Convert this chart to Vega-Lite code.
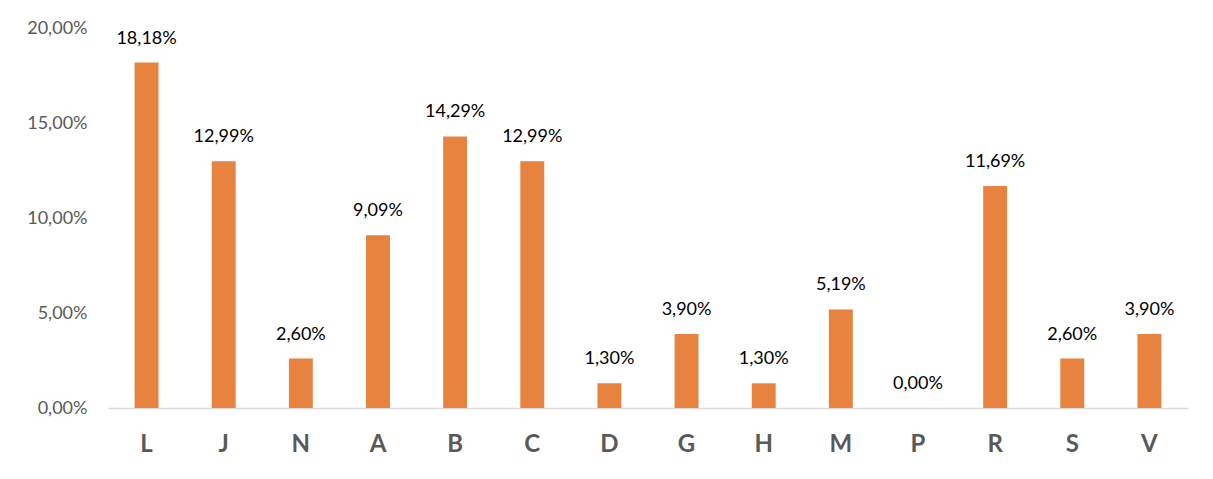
{
  "$schema": "https://vega.github.io/schema/vega-lite/v6.json",
  "autosize": "none",
  "width": 1080,
  "height": 380,
  "padding": {"left": 108, "top": 28, "right": 25, "bottom": 71},
  "background": "white",
  "config": {
    "locale": {"number": {"decimal": ",", "thousands": ".", "grouping": [3], "currency": ["", " €"]}},
    "view": {"stroke": null},
    "font": "Lato"
  },
  "data": {
    "values": [
      {"cat": "L", "v": 0.1818},
      {"cat": "J", "v": 0.1299},
      {"cat": "N", "v": 0.026},
      {"cat": "A", "v": 0.0909},
      {"cat": "B", "v": 0.1429},
      {"cat": "C", "v": 0.1299},
      {"cat": "D", "v": 0.013},
      {"cat": "G", "v": 0.039},
      {"cat": "H", "v": 0.013},
      {"cat": "M", "v": 0.0519},
      {"cat": "P", "v": 0.0},
      {"cat": "R", "v": 0.1169},
      {"cat": "S", "v": 0.026},
      {"cat": "V", "v": 0.039}
    ]
  },
  "encoding": {
    "x": {
      "field": "cat", "type": "nominal", "sort": null, "title": null,
      "scale": {"paddingInner": 0.69, "paddingOuter": 0.345},
      "axis": {"labelAngle": 0, "labelFontSize": 24, "labelFontWeight": "bold", "labelColor": "#595959", "labelPadding": 24, "ticks": false, "domainColor": "#d9d9d9", "domainWidth": 1.5}
    },
    "y": {
      "field": "v", "type": "quantitative", "title": null,
      "scale": {"domain": [0, 0.2]},
      "axis": {"values": [0, 0.05, 0.1, 0.15, 0.2], "format": ".2%", "grid": false, "domain": false, "ticks": false, "labelFontSize": 18, "labelColor": "#595959", "labelPadding": 21}
    }
  },
  "layer": [
    {"mark": {"type": "bar", "color": "#E8823F"}},
    {"mark": {"type": "text", "baseline": "bottom", "dy": -15, "fontSize": 18, "color": "#000000"},
     "encoding": {"text": {"field": "v", "type": "quantitative", "format": ".2%"}}}
  ]
}
